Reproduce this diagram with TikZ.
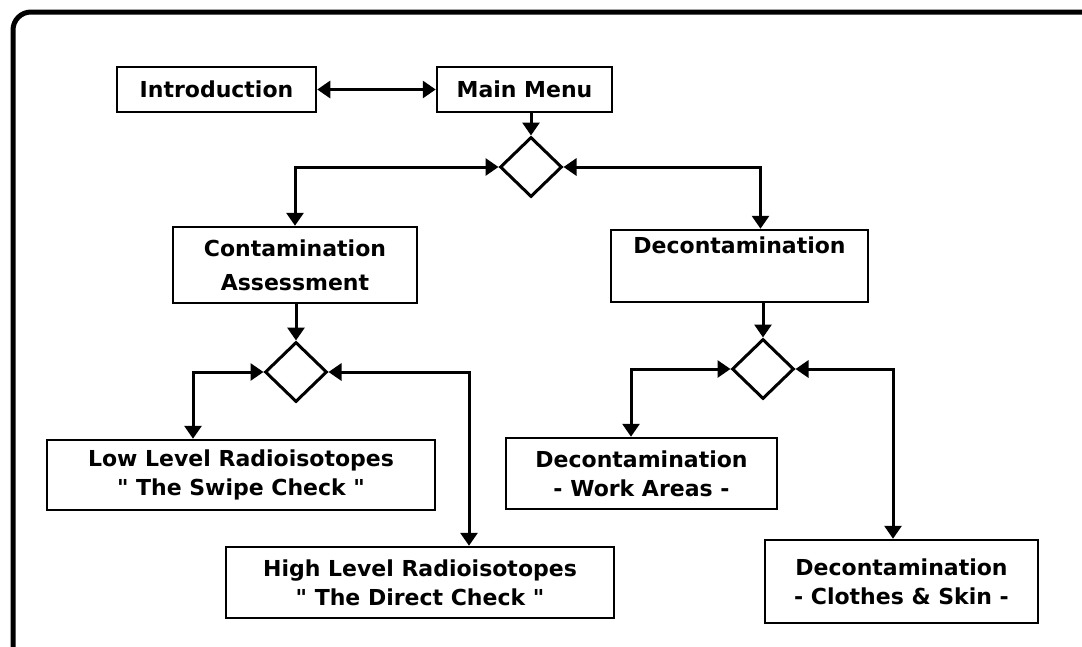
\documentclass[tikz,border=0pt]{standalone}
\usepackage{fontspec}
\setmainfont{DejaVu Sans}
\usetikzlibrary{arrows.meta,shapes.geometric}
\newcommand{\qq}{\textquotedbl}
\begin{document}
\begin{tikzpicture}[x=1pt,y=-1pt,
  box/.style={draw,line width=2.5pt,inner sep=0pt,align=center,
    font=\bfseries\fontsize{22}{29}\selectfont},
  dia/.style={draw,diamond,line width=3pt,inner sep=0pt,minimum width=62pt,minimum height=60pt},
  tip/.style={line width=3pt},
  one/.style={tip,-{Triangle[length=13pt,width=17pt]}},
  both/.style={tip,{Triangle[length=13pt,width=17pt]}-{Triangle[length=13pt,width=17pt]}}
]
\useasboundingbox (0,0) rectangle (1082,646);
\draw[line width=5pt,rounded corners=18pt] (13,12) rectangle (1100,665);

\node[box,minimum width=199pt,minimum height=45pt] (intro) at (216.5,89.5) {Introduction};
\node[box,minimum width=175pt,minimum height=45pt] (menu) at (524.5,89.5) {Main Menu};
\node[dia] (d1) at (531,167) {};
\node[box,minimum width=244pt,minimum height=76pt] (ca) at (295,265) {Contamination\\[5pt]Assessment};
\node[box,minimum width=257pt,minimum height=72pt] (deco) at (739.5,266) {Decontamination\\[4pt]\strut};
\node[dia] (d2) at (296,372) {};
\node[dia] (d3) at (763,369) {};
\node[box,minimum width=388pt,minimum height=70pt] (low) at (241,475) {Low Level Radioisotopes\\\qq{} The Swipe Check \qq};
\node[box,minimum width=388pt,minimum height=71pt] (high) at (420,582.5) {High Level Radioisotopes\\\qq{} The Direct Check \qq};
\node[box,minimum width=271pt,minimum height=71pt] (work) at (641.5,473.5) {Decontamination\\- Work Areas -};
\node[box,minimum width=273pt,minimum height=83pt] (clothes) at (901.5,581.5) {Decontamination\\- Clothes \& Skin -};

\draw[both] (intro.east) -- (menu.west);
\draw[one] (menu.south -| d1.north) -- (d1.north);
\draw[both] (d1.west) -| (ca.north);
\draw[both] (d1.east) -| ([xshift=21pt]deco.north);
\draw[one] (ca.south -| d2.north) -- (d2.north);
\draw[one] (deco.south -| d3.north) -- (d3.north);
\draw[both] (d2.west) -| ([xshift=-48pt]low.north);
\draw[both] (d2.east) -| ([xshift=49pt]high.north);
\draw[both] (d3.west) -| ([xshift=-10.5pt]work.north);
\draw[both] (d3.east) -| ([xshift=-8.5pt]clothes.north);
\end{tikzpicture}
\end{document}
